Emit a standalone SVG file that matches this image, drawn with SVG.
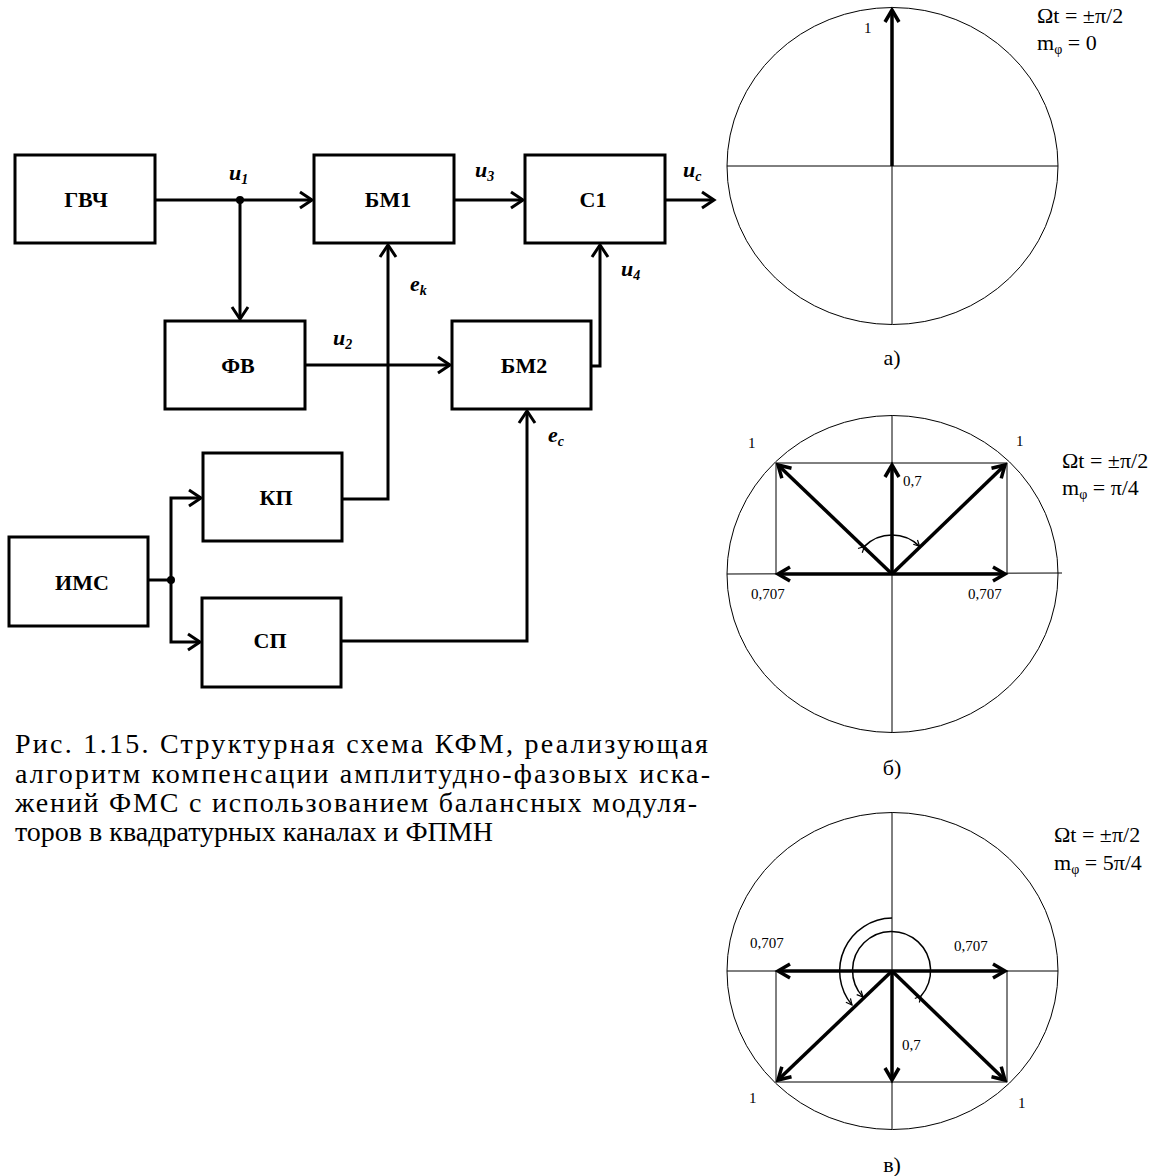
<svg xmlns="http://www.w3.org/2000/svg" width="1157" height="1176" viewBox="0 0 1157 1176">
<style>
.box{fill:#fff;stroke:#000;stroke-width:3}
.bt{font-family:"Liberation Serif","Times New Roman","DejaVu Serif",serif;font-weight:bold;font-size:22px;text-anchor:middle;fill:#000}
.sig{font-family:"Liberation Serif","Times New Roman","DejaVu Serif",serif;font-weight:bold;font-style:italic;font-size:22px;fill:#000}
.sub{font-size:14px}
.con{fill:none;stroke:#000;stroke-width:3}
.thin{fill:none;stroke:#000;stroke-width:1}
.vec{fill:none;stroke:#000;stroke-width:3.5}
.arc{fill:none;stroke:#000;stroke-width:1.5}
.lbl{font-family:"Liberation Serif","Times New Roman","DejaVu Serif",serif;font-size:15px;fill:#000}
.eq{font-family:"Liberation Serif","Times New Roman","DejaVu Serif",serif;font-size:22px;fill:#000}
.cap{font-family:"Liberation Serif","Times New Roman","DejaVu Serif",serif;font-size:28px;fill:#000}
</style>
<defs>
<marker id="ah" markerUnits="userSpaceOnUse" viewBox="-16 -10 18 20" refX="0" refY="0" markerWidth="18" markerHeight="20" orient="auto" overflow="visible">
<path d="M-12,-8 L0,0 L-12,8" fill="none" stroke="#000" stroke-width="3"/>
</marker>
<marker id="va" markerUnits="userSpaceOnUse" viewBox="-16 -10 18 20" refX="0" refY="0" markerWidth="18" markerHeight="20" orient="auto" overflow="visible">
<path d="M-12,-7 L0,0 L-12,7" fill="none" stroke="#000" stroke-width="3.5"/>
</marker>
<marker id="sa" markerUnits="userSpaceOnUse" viewBox="-8 -5 10 10" refX="0" refY="0" markerWidth="10" markerHeight="10" orient="auto" overflow="visible">
<path d="M-6,-3 L0,0 L-6,3" fill="none" stroke="#000" stroke-width="1.2"/>
</marker>
</defs>

<g id="connectors">
<path class="con" d="M155,200 H312" marker-end="url(#ah)"/>
<path class="con" d="M240,200 V319" marker-end="url(#ah)"/>
<path class="con" d="M454,200 H523" marker-end="url(#ah)"/>
<path class="con" d="M665,200 H714" marker-end="url(#ah)"/>
<path class="con" d="M305,365 H450" marker-end="url(#ah)"/>
<path class="con" d="M591,366 H600 V245" marker-end="url(#ah)"/>
<path class="con" d="M342,499 H388 V245" marker-end="url(#ah)"/>
<path class="con" d="M341,641 H527 V411" marker-end="url(#ah)"/>
<path class="con" d="M148,580 H171"/>
<path class="con" d="M171,580 V498 H201" marker-end="url(#ah)"/>
<path class="con" d="M171,580 V642 H200" marker-end="url(#ah)"/>
<circle cx="240" cy="200" r="4" fill="#000"/>
<circle cx="171" cy="580" r="4" fill="#000"/>
</g>

<g id="gvch"><rect class="box" x="15" y="155" width="140" height="88"/><text class="bt" x="86" y="207">ГВЧ</text></g>
<g id="bm1"><rect class="box" x="314" y="155" width="140" height="88"/><text class="bt" x="388" y="207">БМ1</text></g>
<g id="c1"><rect class="box" x="525" y="155" width="140" height="88"/><text class="bt" x="593" y="207">С1</text></g>
<g id="fv"><rect class="box" x="165" y="321" width="140" height="88"/><text class="bt" x="238" y="373">ФВ</text></g>
<g id="bm2"><rect class="box" x="452" y="321" width="139" height="88"/><text class="bt" x="524" y="373">БМ2</text></g>
<g id="kp"><rect class="box" x="203" y="453" width="139" height="88"/><text class="bt" x="276" y="505">КП</text></g>
<g id="sp"><rect class="box" x="202" y="598" width="139" height="89"/><text class="bt" x="270" y="648">СП</text></g>
<g id="ims"><rect class="box" x="9" y="537" width="139" height="89"/><text class="bt" x="82" y="590">ИМС</text></g>

<g id="signal-labels">
<text class="sig" x="229" y="180">u<tspan class="sub" dy="4">1</tspan></text>
<text class="sig" x="475" y="177">u<tspan class="sub" dy="4">3</tspan></text>
<text class="sig" x="683" y="177">u<tspan class="sub" dy="4">c</tspan></text>
<text class="sig" x="410" y="291">e<tspan class="sub" dy="4">k</tspan></text>
<text class="sig" x="621" y="276">u<tspan class="sub" dy="4">4</tspan></text>
<text class="sig" x="333" y="345">u<tspan class="sub" dy="4">2</tspan></text>
<text class="sig" x="548" y="442">e<tspan class="sub" dy="4">c</tspan></text>
</g>

<g id="diagram-a">
<ellipse class="thin" cx="892.5" cy="166" rx="165.5" ry="158.5"/>
<path class="thin" d="M727,166 H1058 M892,166 V324"/>
<path class="vec" d="M892,166 V10" marker-end="url(#va)"/>
<text class="lbl" x="864" y="33">1</text>
<text class="eq" x="1037" y="23">Ωt = ±π/2</text>
<text class="eq" x="1037" y="50">m<tspan font-size="14" dy="4">φ</tspan><tspan dy="-4"> = 0</tspan></text>
<text class="eq" x="892" y="365" text-anchor="middle">а)</text>
</g>

<g id="diagram-b">
<ellipse class="thin" cx="892.5" cy="574" rx="165.5" ry="158.5"/>
<path class="thin" d="M727,574 L1062,573 M892,415 V733 M776,463 H1007 M776,463 V574 M1007,463 V574"/>
<path class="vec" d="M892,574 L778,465" marker-end="url(#va)"/>
<path class="vec" d="M892,574 L1005,465" marker-end="url(#va)"/>
<path class="vec" d="M892,574 V465" marker-end="url(#va)"/>
<path class="vec" d="M892,574 H778" marker-end="url(#va)"/>
<path class="vec" d="M892,574 H1005" marker-end="url(#va)"/>
<path class="arc" d="M864.4,546.4 A39,39 0 0 1 919.6,546.4" marker-start="url(#sa)" marker-end="url(#sa)"/>
<text class="lbl" x="748" y="448">1</text>
<text class="lbl" x="1016" y="446">1</text>
<text class="lbl" x="903" y="486">0,7</text>
<text class="lbl" x="751" y="599">0,707</text>
<text class="lbl" x="968" y="599">0,707</text>
<text class="eq" x="1062" y="468">Ωt = ±π/2</text>
<text class="eq" x="1062" y="495">m<tspan font-size="14" dy="4">φ</tspan><tspan dy="-4"> = π/4</tspan></text>
<text class="eq" x="892" y="775" text-anchor="middle">б)</text>
</g>

<g id="diagram-v">
<ellipse class="thin" cx="892.5" cy="971" rx="165.5" ry="158.5"/>
<path class="thin" d="M727,971 H1058 M892,812 V1129 M776,1082 H1007 M776,971 V1082 M1007,971 V1082"/>
<path class="vec" d="M892,971 L778,1080" marker-end="url(#va)"/>
<path class="vec" d="M892,971 L1005,1080" marker-end="url(#va)"/>
<path class="vec" d="M892,971 V1080" marker-end="url(#va)"/>
<path class="vec" d="M892,971 H778" marker-end="url(#va)"/>
<path class="vec" d="M892,971 H1005" marker-end="url(#va)"/>
<path class="arc" d="M892,918 A53,53 0 0 0 852,1005" marker-end="url(#sa)"/>
<path class="arc" d="M921,996 A39,39 0 1 0 863,997" marker-start="url(#sa)" marker-end="url(#sa)"/>
<text class="lbl" x="750" y="948">0,707</text>
<text class="lbl" x="954" y="951">0,707</text>
<text class="lbl" x="902" y="1050">0,7</text>
<text class="lbl" x="749" y="1103">1</text>
<text class="lbl" x="1018" y="1108">1</text>
<text class="eq" x="1054" y="842">Ωt = ±π/2</text>
<text class="eq" x="1054" y="870">m<tspan font-size="14" dy="4">φ</tspan><tspan dy="-4"> = 5π/4</tspan></text>
<text class="eq" x="892" y="1172" text-anchor="middle">в)</text>
</g>

<g id="caption">
<text class="cap" x="15" y="753" textLength="693" lengthAdjust="spacing">Рис. 1.15. Структурная схема КФМ, реализующая</text>
<text class="cap" x="15" y="783" textLength="695" lengthAdjust="spacing">алгоритм компенсации амплитудно-фазовых иска-</text>
<text class="cap" x="15" y="812" textLength="682" lengthAdjust="spacing">жений ФМС с использованием балансных модуля-</text>
<text class="cap" x="15" y="841">торов в квадратурных каналах и ФПМН</text>
</g>
</svg>
